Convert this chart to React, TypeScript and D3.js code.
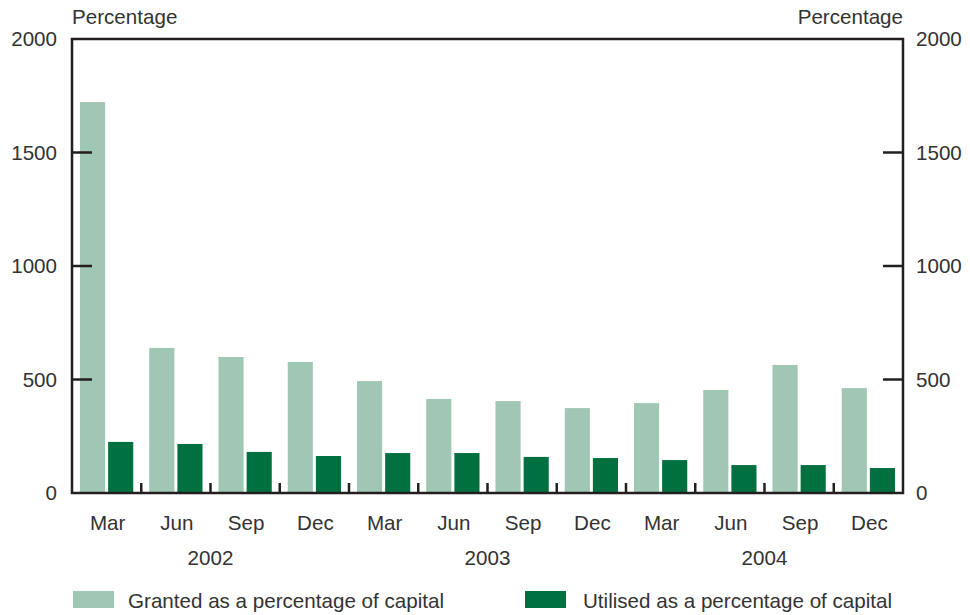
import React from "react";
import * as d3 from "d3";

const categories = ["Mar", "Jun", "Sep", "Dec", "Mar", "Jun", "Sep", "Dec", "Mar", "Jun", "Sep", "Dec"];
const years = ["2002", "2003", "2004"];
const granted = [1722, 639, 599, 577, 493, 414, 405, 374, 396, 454, 564, 462];
const utilised = [225, 216, 181, 163, 176, 176, 159, 154, 145, 123, 123, 110];
const yTicks = [0, 500, 1000, 1500, 2000];
const seriesNames = ["Granted as a percentage of capital", "Utilised as a percentage of capital"];
const seriesColors = ["#a0c6b4", "#007040"];

export default function App() {
  const W = 970, H = 615;
  const left = 72, right = 903, top = 39, bottom = 493;
  const font = "'Liberation Sans', Arial, sans-serif";
  const fs = 20.6;
  const textColor = "#333";
  const idx = categories.map((_, i) => i);
  const x0 = d3.scaleBand<number>().domain(idx).range([left, right]).padding(0);
  const bw = x0.bandwidth();
  const x1 = d3.scaleBand<number>().domain([0, 1]).range([8, bw - 8]).paddingInner(0.107);
  const y = d3.scaleLinear().domain([0, 2000]).range([bottom, top]);
  const series = [granted, utilised];
  const yearX = d3.scaleBand<string>().domain(years).range([left, right]);

  return (
    <svg width={W} height={H} style={{ position: "absolute", left: 0, top: 0, background: "#fff" }}>
      {series.map((vals, s) =>
        vals.map((v, i) => (
          <rect key={`${s}-${i}`} x={(x0(i) as number) + (x1(s) as number)} y={y(v)}
            width={x1.bandwidth()} height={bottom - y(v)} fill={seriesColors[s]} />
        ))
      )}
      <rect x={left} y={top} width={right - left} height={bottom - top} fill="none" stroke="#231f20" strokeWidth={2.5} />
      {yTicks.filter(t => t > 0 && t < 2000).map(t => (
        <g key={t}>
          <line x1={left} x2={left + 20} y1={y(t)} y2={y(t)} stroke="#231f20" strokeWidth={2.5} />
          <line x1={right - 20} x2={right} y1={y(t)} y2={y(t)} stroke="#231f20" strokeWidth={2.5} />
        </g>
      ))}
      {yTicks.map(t => (
        <g key={`l${t}`} fontFamily={font} fontSize={fs} fill={textColor}>
          <text x={57} y={y(t)} dy="0.36em" textAnchor="end">{t}</text>
          <text x={916} y={y(t)} dy="0.36em" textAnchor="start">{t}</text>
        </g>
      ))}
      {idx.slice(1).map(i => (
        <line key={`xt${i}`} x1={x0(i) as number} x2={x0(i) as number} y1={bottom} y2={bottom - 10} stroke="#231f20" strokeWidth={2.5} />
      ))}
      <text x={72} y={24} fontFamily={font} fontSize={fs} fill={textColor}>Percentage</text>
      <text x={903} y={24} fontFamily={font} fontSize={fs} fill={textColor} textAnchor="end">Percentage</text>
      {categories.map((c, i) => (
        <text key={`m${i}`} x={(x0(i) as number) + bw / 2 + 1} y={530} textAnchor="middle" fontFamily={font} fontSize={fs} fill={textColor}>{c}</text>
      ))}
      {years.map(yr => (
        <text key={yr} x={(yearX(yr) as number) + yearX.bandwidth() / 2} y={565} textAnchor="middle" fontFamily={font} fontSize={fs} fill={textColor}>{yr}</text>
      ))}
      {seriesNames.map((n, s) => {
        const lx = s === 0 ? 73 : 525;
        const tx = s === 0 ? 128 : 583;
        return (
          <g key={n}>
            <rect x={lx} y={591} width={41} height={17} fill={seriesColors[s]} />
            <text x={tx} y={608} fontFamily={font} fontSize={fs} fill={textColor}>{n}</text>
          </g>
        );
      })}
    </svg>
  );
}
